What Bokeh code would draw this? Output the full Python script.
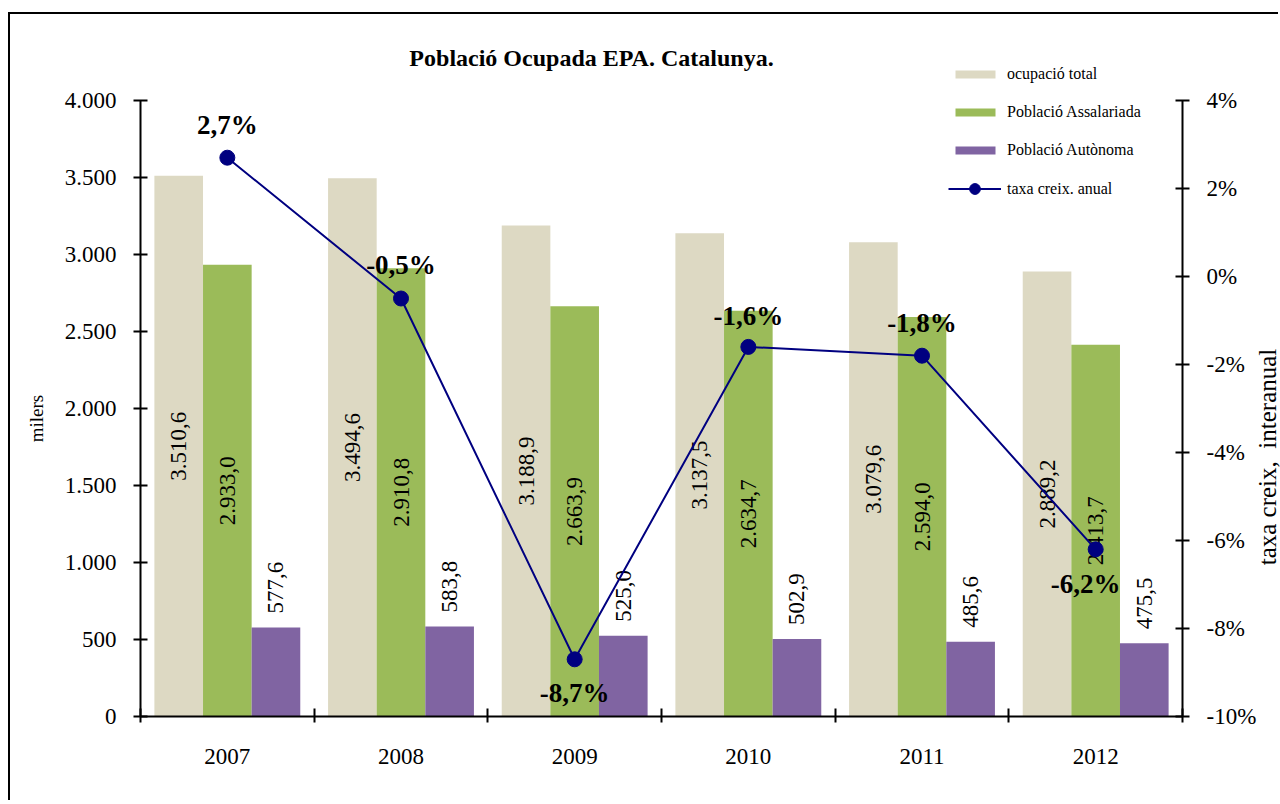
import numpy as np
from bokeh.plotting import figure
from bokeh.layouts import column
from bokeh.models import (ColumnDataSource, Range1d, LinearAxis, FixedTicker,
                          CustomJSTickFormatter, Label, Legend, LegendItem, Div)
from bokeh.transform import dodge
from bokeh.core.properties import value
from bokeh.embed import file_html
from bokeh.resources import INLINE

# ---------------- data ----------------
years = ["2007", "2008", "2009", "2010", "2011", "2012"]
ocupacio_total = [3510.6, 3494.6, 3188.9, 3137.5, 3079.6, 2889.2]
poblacio_assalariada = [2933.0, 2910.8, 2663.9, 2634.7, 2594.0, 2413.7]
poblacio_autonoma = [577.6, 583.8, 525.0, 502.9, 485.6, 475.5]
taxa_creix_anual = [2.7, -0.5, -8.7, -1.6, -1.8, -6.2]
left_ticks = [0, 500, 1000, 1500, 2000, 2500, 3000, 3500, 4000]
right_ticks = [-10, -8, -6, -4, -2, 0, 2, 4]
left_bounds = (0, 4000)
right_bounds = (-10, 4)

# label placement (layout, not data)
pct_label_dy = [-33, -34, 34, -31, -33, 35]
pct_label_dx = [0, 0, 0, 0, 0, -10]

FONT = "Liberation Serif"
C_TOTAL = "#DDD9C3"
C_ASSAL = "#9BBB59"
C_AUTON = "#8064A2"
C_LINE = "#000080"
NBSP = "\u00a0"


def fmt_num(v):
    s = f"{v:,.1f}"
    return s.replace(",", "X").replace(".", ",").replace("X", ".")


def fmt_pct(v):
    return f"{v:.1f}".replace(".", ",") + "%"


xpos = [i + 0.5 for i in range(len(years))]
src = ColumnDataSource(dict(
    x=xpos,
    total=ocupacio_total,
    assal=poblacio_assalariada,
    auton=poblacio_autonoma,
    total_mid=[v / 2 for v in ocupacio_total],
    assal_mid=[v / 2 for v in poblacio_assalariada],
    total_lbl=[fmt_num(v) for v in ocupacio_total],
    assal_lbl=[fmt_num(v) for v in poblacio_assalariada],
    auton_lbl=[fmt_num(v) for v in poblacio_autonoma],
))
src_pct = ColumnDataSource(dict(
    x=xpos, y=taxa_creix_anual,
    lbl=[fmt_pct(v) for v in taxa_creix_anual],
    dy=pct_label_dy, dx=pct_label_dx,
))

# ---------------- layout ----------------
W, H = 1270, 788
AXIS_PX = 616          # pixel span of the value axes
EXTRA_PX = 70          # empty frame space above the axes (legend / title)
FL, FW = 130, 1042
FH = AXIS_PX + EXTRA_PX
FT = 16
scale = FH / AXIS_PX
y_left = Range1d(left_bounds[0], left_bounds[0] + (left_bounds[1] - left_bounds[0]) * scale)
y_right = Range1d(right_bounds[0], right_bounds[0] + (right_bounds[1] - right_bounds[0]) * scale)

p = figure(width=W, height=H, output_backend="svg", toolbar_location=None,
           x_range=Range1d(0, len(years)), y_range=y_left,
           min_border_left=FL, min_border_top=FT,
           min_border_right=W - FL - FW, min_border_bottom=H - FT - FH,
           margin=(12, 0, 0, 8))
p.styles = {"border-left": "2px solid black", "border-top": "2px solid black"}
p.outline_line_color = None
p.xgrid.visible = False
p.ygrid.visible = False
p.background_fill_color = "white"
p.border_fill_color = "white"

p.extra_y_ranges = {"pct": y_right}

BW = 0.28
r_total = p.vbar(x=dodge("x", -BW, range=p.x_range), top="total", width=BW,
                 source=src, fill_color=C_TOTAL, line_color=None)
r_assal = p.vbar(x="x", top="assal", width=BW,
                 source=src, fill_color=C_ASSAL, line_color=None)
r_auton = p.vbar(x=dodge("x", BW, range=p.x_range), top="auton", width=BW,
                 source=src, fill_color=C_AUTON, line_color=None)

lbl_kw = dict(text_font=value(FONT), text_font_size="23px", text_color="black",
              angle=np.pi / 2)
p.text(x=dodge("x", -BW, range=p.x_range), y="total_mid", text="total_lbl", source=src,
       text_align="center", text_baseline="middle", **lbl_kw)
p.text(x="x", y="assal_mid", text="assal_lbl", source=src,
       text_align="center", text_baseline="middle", **lbl_kw)
p.text(x=dodge("x", BW, range=p.x_range), y="auton", text="auton_lbl", source=src,
       text_align="left", text_baseline="middle", y_offset=-14, **lbl_kw)

r_line = p.line(x="x", y="y", source=src_pct, y_range_name="pct",
                line_color=C_LINE, line_width=2)
r_pts = p.scatter(x="x", y="y", source=src_pct, y_range_name="pct",
                  size=15, fill_color=C_LINE, line_color=C_LINE)
p.text(x="x", y="y", text="lbl", source=src_pct, y_range_name="pct",
       x_offset="dx", y_offset="dy",
       text_font=value(FONT), text_font_size="27px", text_font_style="bold",
       text_color="black", text_align="center", text_baseline="middle")

# ---------------- axes ----------------
def style_axis(ax):
    ax.axis_line_color = "black"
    ax.axis_line_width = 2
    ax.major_tick_line_color = "black"
    ax.major_tick_line_width = 2
    ax.minor_tick_line_color = "black"
    ax.minor_tick_line_width = 2
    ax.major_label_text_font = FONT
    ax.major_label_text_font_size = "23px"
    ax.major_label_text_color = "black"
    ax.axis_label_text_font = FONT
    ax.axis_label_text_font_size = "19px"
    ax.axis_label_text_font_style = "normal"
    ax.axis_label_text_color = "black"


xa = p.xaxis[0]
style_axis(xa)
xa.ticker = FixedTicker(ticks=xpos, minor_ticks=list(range(len(years) + 1)))
xa.formatter = CustomJSTickFormatter(args=dict(labels=years), code="""
    const i = Math.round(tick - 0.5);
    return (i >= 0 && i < labels.length) ? labels[i] : '';
""")
xa.major_tick_in = 0
xa.major_tick_out = 0
xa.minor_tick_in = 8
xa.minor_tick_out = 6
xa.major_label_standoff = 26

ya = p.yaxis[0]
style_axis(ya)
ya.bounds = left_bounds
ya.ticker = FixedTicker(ticks=left_ticks)
ya.formatter = CustomJSTickFormatter(code=r"""
    return tick.toFixed(0).replace(/\B(?=(\d{3})+(?!\d))/g, '.');
""")
ya.major_tick_in = 7
ya.major_tick_out = 7
ya.minor_tick_out = 0
ya.minor_tick_in = 0
ya.major_label_standoff = 17
# trailing no-break spaces shift the centred title down to the axis' middle
ya.axis_label = "milers" + NBSP * 19
ya.axis_label_standoff = 15

ra = LinearAxis(y_range_name="pct")
style_axis(ra)
ra.bounds = right_bounds
ra.ticker = FixedTicker(ticks=right_ticks)
ra.formatter = CustomJSTickFormatter(code="return tick.toFixed(0) + '%';")
ra.major_tick_in = 7
ra.major_tick_out = 7
ra.minor_tick_out = 0
ra.minor_tick_in = 0
ra.major_label_standoff = 17
p.add_layout(ra, "right")

# ---------------- title ----------------
p.add_layout(Label(x=451, y=659, x_units="screen", y_units="screen",
                   text="Població Ocupada EPA. Catalunya.",
                   text_font=FONT, text_font_size="24px", text_font_style="bold",
                   text_color="black", text_align="center", text_baseline="middle"))

# right axis title: rotated text at the page's right edge
right_title = Div(text="taxa creix,  interanual", width=300, height=24,
                  styles={"position": "absolute", "left": "1113px", "top": "440px",
                          "transform": "rotate(-90deg)",
                          "font-family": FONT, "font-size": "25px",
                          "line-height": "24px", "text-align": "center",
                          "white-space": "pre", "color": "black"})

# ---------------- legends ----------------
leg_common = dict(padding=0, margin=0, border_line_color=None,
                  background_fill_alpha=0, label_text_font=FONT,
                  label_text_font_size="16px", label_text_color="black")
leg1 = Legend(items=[LegendItem(label="ocupació total", renderers=[r_total]),
                     LegendItem(label="Població Assalariada", renderers=[r_assal]),
                     LegendItem(label="Població Autònoma", renderers=[r_auton])],
              location=(810, 556), glyph_width=50, glyph_height=10,
              label_height=20, spacing=18, label_standoff=7, **leg_common)
leg2 = Legend(items=[LegendItem(label="taxa creix. anual", renderers=[r_line, r_pts])],
              location=(808, 514), glyph_width=53, glyph_height=27,
              label_height=20, spacing=0, label_standoff=6, **leg_common)
p.add_layout(leg1)
p.add_layout(leg2)

page = column(p, right_title, spacing=0)
open("out.html", "w").write(file_html(page, INLINE))
